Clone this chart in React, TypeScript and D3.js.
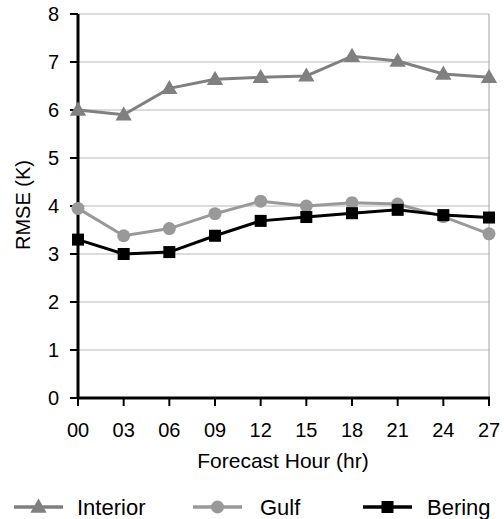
import React from 'react';
import * as d3 from 'd3';

const hours = ['00', '03', '06', '09', '12', '15', '18', '21', '24', '27'];
const interior = [6.0, 5.9, 6.45, 6.64, 6.68, 6.71, 7.12, 7.02, 6.75, 6.68];
const gulf = [3.95, 3.38, 3.53, 3.84, 4.1, 4.0, 4.07, 4.04, 3.78, 3.42];
const bering = [3.3, 3.0, 3.04, 3.38, 3.69, 3.77, 3.85, 3.92, 3.81, 3.76];
const yTicks = [0, 1, 2, 3, 4, 5, 6, 7, 8];

const W = 504;
const H = 519;
const font = 'Arial, "Liberation Sans", sans-serif';

const App = () => {
    const x = d3.scalePoint<string>().domain(hours).range([78, 489]);
    const y = d3.scaleLinear().domain([0, 8]).range([398, 14]);

    const line = d3
        .line<number>()
        .x((d, i) => x(hours[i]) as number)
        .y(d => y(d));

    const tri = d3.symbol().type(d3.symbolTriangle).size(115)();

    const series = [
        { name: 'Interior', data: interior, color: '#808080', shape: 'tri' },
        { name: 'Gulf', data: gulf, color: '#999999', shape: 'circle' },
        { name: 'Bering', data: bering, color: '#000000', shape: 'square' },
    ];

    const marker = (shape: string, color: string, cx: number, cy: number, key: any) => {
        if (shape === 'tri')
            return <path key={key} d={tri as string} transform={`translate(${cx},${cy + 1})`} fill={color} />;
        if (shape === 'circle') return <circle key={key} cx={cx} cy={cy} r={6.5} fill={color} />;
        return <rect key={key} x={cx - 6} y={cy - 6} width={12} height={12} fill={color} />;
    };

    const legendPos = [
        { x0: 14, x1: 63, tx: 77 },
        { x0: 193, x1: 242, tx: 260 },
        { x0: 363, x1: 412, tx: 427 },
    ];

    return (
        <svg width={W} height={H} style={{ position: 'absolute', left: 0, top: 0 }} fontFamily={font}>
            <rect width={W} height={H} fill='#fff' />
            {/* gridlines */}
            {yTicks.filter(t => t > 0).map(t => (
                <line key={t} x1={78} x2={489} y1={y(t)} y2={y(t)} stroke='#b8b8b8' strokeWidth={1} />
            ))}
            {/* plot border right */}
            <line x1={489} x2={489} y1={14} y2={398} stroke='#a0a0a0' strokeWidth={1} />
            {/* y axis */}
            <line x1={78} x2={78} y1={14} y2={399} stroke='#000' strokeWidth={3} />
            {yTicks.map(t => (
                <g key={t}>
                    <line x1={70} x2={78} y1={y(t)} y2={y(t)} stroke='#000' strokeWidth={2} />
                    <text x={59} y={y(t)} dy='0.35em' textAnchor='end' fontSize={20}>{t}</text>
                </g>
            ))}
            {/* x axis */}
            <line x1={77} x2={490} y1={398} y2={398} stroke='#000' strokeWidth={3} />
            {hours.map(h => (
                <g key={h}>
                    <line x1={x(h)} x2={x(h)} y1={398} y2={406} stroke='#000' strokeWidth={2} />
                    <text x={x(h)} y={430} dy='0.35em' textAnchor='middle' fontSize={20}>{h}</text>
                </g>
            ))}
            <text x={283} y={461} dy='0.35em' textAnchor='middle' fontSize={21}>Forecast Hour (hr)</text>
            <text transform='translate(23,205) rotate(-90)' dy='0.35em' textAnchor='middle' fontSize={20}>RMSE (K)</text>
            {/* series */}
            {series.map(s => (
                <g key={s.name}>
                    <path d={line(s.data) as string} fill='none' stroke={s.color} strokeWidth={3} />
                    {s.data.map((v, i) => marker(s.shape, s.color, x(hours[i]) as number, y(v), i))}
                </g>
            ))}
            {/* legend */}
            {series.map((s, i) => {
                const p = legendPos[i];
                return (
                    <g key={s.name}>
                        <line x1={p.x0} x2={p.x1} y1={507} y2={507} stroke={s.color} strokeWidth={3.5} />
                        {marker(s.shape, s.color, (p.x0 + p.x1) / 2, 507, 'm')}
                        <text x={p.tx} y={507} dy='0.35em' fontSize={22}>{s.name}</text>
                    </g>
                );
            })}
        </svg>
    );
};

export default App;
